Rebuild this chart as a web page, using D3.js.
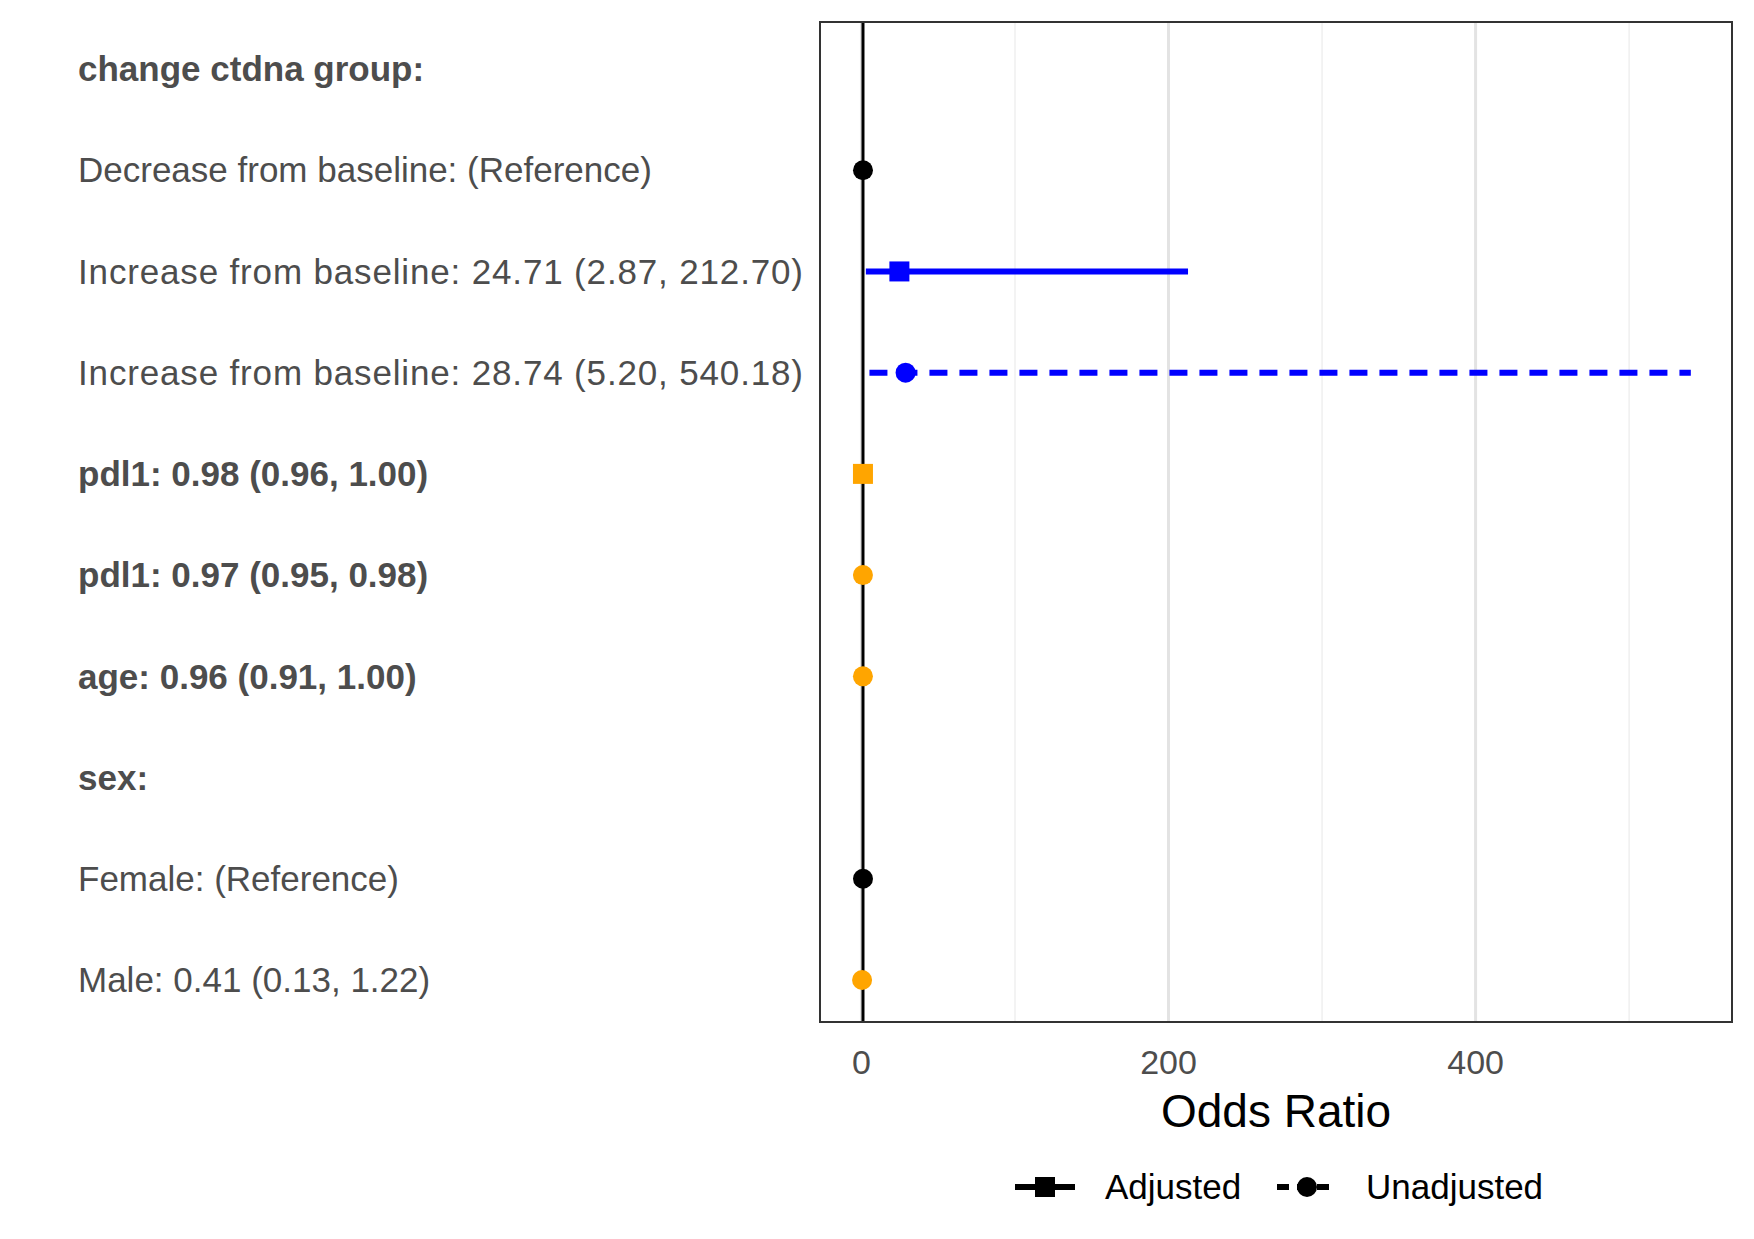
<!DOCTYPE html>
<html><head><meta charset="utf-8">
<script src="https://cdn.jsdelivr.net/npm/d3@7"></script>
<style>body{margin:0;background:#fff}text{font-family:"Liberation Sans",Arial,sans-serif}</style>
</head><body>
<script>
// rows top to bottom
var labels = ["change ctdna group:", "Decrease from baseline: (Reference)",
  "Increase from baseline: 24.71 (2.87, 212.70)", "Increase from baseline: 28.74 (5.20, 540.18)",
  "pdl1: 0.98 (0.96, 1.00)", "pdl1: 0.97 (0.95, 0.98)", "age: 0.96 (0.91, 1.00)",
  "sex:", "Female: (Reference)", "Male: 0.41 (0.13, 1.22)"]
var boldRows = [true, false, false, false, true, true, true, true, false, false]
var est = [null, 1, 24.71, 28.74, 0.98, 0.97, 0.96, null, 1, 0.41]
var lo = [null, 1, 2.87, 5.20, 0.96, 0.95, 0.91, null, 1, 0.13]
var hi = [null, 1, 212.70, 540.18, 1.00, 0.98, 1.00, null, 1, 1.22]
var model = [null, "Unadjusted", "Adjusted", "Unadjusted", "Adjusted", "Unadjusted", "Unadjusted", null, "Unadjusted", "Unadjusted"]
var colors = [null, "black", "blue", "blue", "orange", "orange", "orange", null, "black", "orange"]
var xTicks = [0, 200, 400]
var gridTicks = [0, 100, 200, 300, 400, 500]

var W = 1754, H = 1239
var panel = {left: 820, right: 1732, top: 22, bottom: 1022}

var svg = d3.select("body").append("svg").attr("width", W).attr("height", H)

var x = d3.scaleLinear().domain([-27, 567]).range([panel.left, panel.right])
var y = d3.scalePoint().domain(d3.range(labels.length)).range([69, 980])

// grid
svg.selectAll(".grid").data(gridTicks).enter().append("line")
  .attr("x1", function(d){ return x(d) }).attr("x2", function(d){ return x(d) })
  .attr("y1", panel.top).attr("y2", panel.bottom)
  .attr("stroke", function(d){ return d % 200 == 0 ? "#e3e3e3" : "#efefef" })
  .attr("stroke-width", function(d){ return d % 200 == 0 ? 3 : 1.5 })

// reference line
svg.append("line").attr("x1", x(1)).attr("x2", x(1))
  .attr("y1", panel.top).attr("y2", panel.bottom)
  .attr("stroke", "black").attr("stroke-width", 3)

var rows = d3.range(labels.length).filter(function(i){ return est[i] != null })

// CIs
svg.selectAll(".ci").data(rows).enter().append("line")
  .attr("x1", function(i){ return x(lo[i]) }).attr("x2", function(i){ return x(hi[i]) })
  .attr("y1", function(i){ return y(i) }).attr("y2", function(i){ return y(i) })
  .attr("stroke", function(i){ return colors[i] }).attr("stroke-width", 6)
  .attr("stroke-dasharray", function(i){ return model[i] == "Unadjusted" ? "18,12" : null })

// points
rows.forEach(function(i){
  if (model[i] == "Adjusted") {
    svg.append("rect").attr("x", x(est[i]) - 10).attr("y", y(i) - 10)
      .attr("width", 20).attr("height", 20).attr("fill", colors[i])
  } else {
    svg.append("circle").attr("cx", x(est[i])).attr("cy", y(i)).attr("r", 10)
      .attr("fill", colors[i])
  }
})

// panel border
svg.append("rect").attr("x", panel.left).attr("y", panel.top)
  .attr("width", panel.right - panel.left).attr("height", panel.bottom - panel.top)
  .attr("fill", "none").attr("stroke", "#333").attr("stroke-width", 2)

// labels
svg.selectAll(".lab").data(labels).enter().append("text")
  .attr("x", 78).attr("y", function(d, i){ return y(i) })
  .attr("dy", "0.35em").attr("font-size", 35).attr("fill", "#4d4d4d")
  .attr("font-weight", function(d, i){ return boldRows[i] ? "bold" : "normal" })
  .attr("textLength", function(d, i){ return i == 2 || i == 3 ? 725 : null })
  .text(function(d){ return d })

// x axis
svg.selectAll(".tick").data(xTicks).enter().append("text")
  .attr("x", function(d){ return x(d) }).attr("y", 1074)
  .attr("text-anchor", "middle").attr("font-size", 34).attr("fill", "#4d4d4d")
  .text(function(d){ return d })
svg.append("text").attr("x", (panel.left + panel.right) / 2).attr("y", 1127)
  .attr("text-anchor", "middle").attr("font-size", 46).attr("fill", "black").text("Odds Ratio")

// legend
var leg = [{name: "Adjusted", x: 1015, dash: null, shape: "square"},
           {name: "Unadjusted", x: 1277, dash: "12,8", shape: "circle"}]
leg.forEach(function(l){
  var g = svg.append("g").attr("transform", "translate(" + l.x + ",1187)")
  g.append("line").attr("x1", 0).attr("x2", 60).attr("stroke", "black").attr("stroke-width", 6)
    .attr("stroke-dasharray", l.dash)
  if (l.shape == "square") g.append("rect").attr("x", 20).attr("y", -10).attr("width", 20).attr("height", 20)
  else g.append("circle").attr("cx", 30).attr("r", 10)
  g.append("text").attr("x", l.shape == "square" ? 90 : 89).attr("dy", "0.35em").attr("font-size", 35)
    .text(l.name)
})
</script>
</body></html>
